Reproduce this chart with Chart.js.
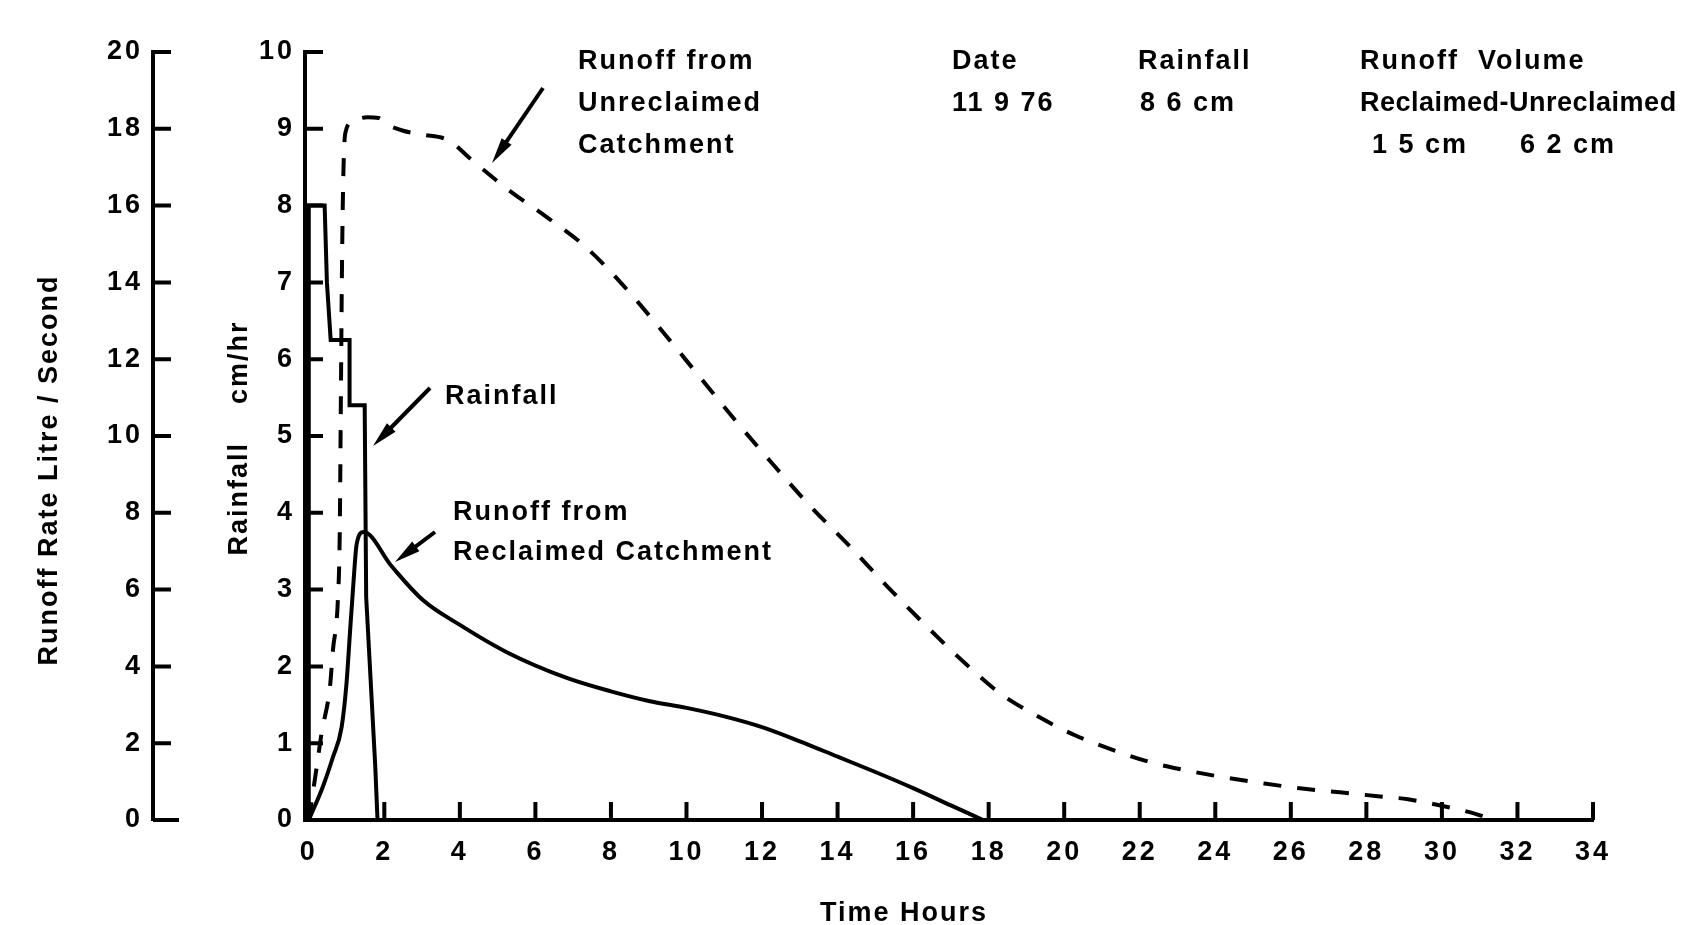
<!DOCTYPE html>
<html>
<head>
<meta charset="utf-8">
<script src="https://cdn.jsdelivr.net/npm/chart.js@4.4.1/dist/chart.umd.min.js"></script>
<style>
    html, body { margin: 0; background: #fff; }
</style>
</head>
<body>
<canvas id="hydroChart" width="1702" height="925"></canvas>
<script>
// 1. DATA
const hourTicks   = [0, 2, 4, 6, 8, 10, 12, 14, 16, 18, 20, 22, 24, 26, 28, 30, 32, 34];
const runoffTicks = [0, 2, 4, 6, 8, 10, 12, 14, 16, 18, 20];
const rainTicks   = [0, 1, 2, 3, 4, 5, 6, 7, 8, 9, 10];

// rainfall hyetograph, cm/hr
const rainHours = [0, 0, 0.42, 0.48, 0.58, 1.08, 1.08, 1.48, 1.52, 1.76, 1.82];
const rainCmHr  = [0, 8, 8, 7.0, 6.25, 6.25, 5.4, 5.4, 2.9, 0.7, 0];

// runoff from reclaimed catchment, litre / second
const reclaimedHours = [0, 0.37, 0.64, 0.87, 1.0, 1.09, 1.17, 1.27, 1.45, 2.2, 3.02, 4.0, 5.24, 6.83, 8.0, 9.0, 10.0, 11.0, 12.0, 13.0, 14.0, 15.0, 16.0, 17.0, 17.85];
const reclaimedLps   = [0, 0.86, 1.64, 2.42, 3.57, 4.87, 6.0, 7.2, 7.5, 6.6, 5.73, 5.08, 4.37, 3.7, 3.35, 3.1, 2.92, 2.7, 2.42, 2.05, 1.65, 1.25, 0.83, 0.38, 0];

// runoff from unreclaimed catchment, litre / second
const unreclaimedHours = [0, 0.21, 0.34, 0.56, 0.64, 0.77, 0.82, 0.85, 0.88, 0.92, 0.97, 1.17, 1.55, 1.85, 2.1, 2.5, 3.0, 3.7, 4.3, 5.3, 6.3, 7.3, 8.3, 9.3, 10.3, 11.3, 12.3, 13.3, 14.3, 15.3, 16.3, 17.3, 18.3, 19.3, 20.3, 21.3, 22.3, 23.3, 24.3, 25.3, 26.3, 27.3, 28.3, 29.1, 29.9, 30.7, 31.4];
const unreclaimedLps   = [0, 1.38, 2.27, 3.46, 4.43, 5.73, 7.5, 11, 14.5, 17.0, 17.9, 18.2, 18.3, 18.28, 18.1, 17.95, 17.85, 17.7, 17.2, 16.4, 15.7, 14.95, 13.95, 12.8, 11.6, 10.4, 9.25, 8.15, 7.15, 6.1, 5.1, 4.15, 3.3, 2.7, 2.2, 1.82, 1.5, 1.28, 1.1, 0.95, 0.82, 0.72, 0.62, 0.54, 0.39, 0.21, 0];

const toPoints = (xs, ys) => xs.map((x, i) => ({ x: x, y: ys[i] }));

const INK = '#000';
const FONT = '"Liberation Sans", Arial, sans-serif';

// 2. TICK MARKS (drawn inward like the original)
const tickMarks = {
    id: 'tickMarks',
    beforeDraw(chart) {
        chart.ctx.letterSpacing = '3px';
    },
    afterDraw(chart) {
        const { ctx, scales } = chart;
        const { x, yRun, yRain } = scales;
        ctx.save();
        ctx.strokeStyle = INK;
        ctx.lineWidth = 4;
        ctx.beginPath();
        yRun.ticks.forEach(t => {
            const py = yRun.getPixelForValue(t.value);
            ctx.moveTo(yRun.right, py); ctx.lineTo(yRun.right + (t.value === 0 ? 26 : 18), py);
        });
        yRain.ticks.forEach(t => {
            const py = yRain.getPixelForValue(t.value);
            ctx.moveTo(yRain.right, py); ctx.lineTo(yRain.right + 18, py);
        });
        x.ticks.forEach(t => {
            const px = x.getPixelForValue(t.value);
            ctx.moveTo(px, x.top); ctx.lineTo(px, x.top - 18);
        });
        ctx.stroke();
        ctx.restore();
    }
};

// 3. NOTES, ARROWS AND AXIS TITLES
const arrow = (ctx, x1, y1, x2, y2) => {
    const a = Math.atan2(y2 - y1, x2 - x1);
    ctx.beginPath();
    ctx.moveTo(x1, y1);
    ctx.lineTo(x2 - 14 * Math.cos(a), y2 - 14 * Math.sin(a));
    ctx.stroke();
    ctx.beginPath();
    ctx.moveTo(x2, y2);
    ctx.lineTo(x2 - 26 * Math.cos(a) + 6 * Math.sin(a), y2 - 26 * Math.sin(a) - 6 * Math.cos(a));
    ctx.lineTo(x2 - 26 * Math.cos(a) - 6 * Math.sin(a), y2 - 26 * Math.sin(a) + 6 * Math.cos(a));
    ctx.closePath();
    ctx.fill();
};

const notes = {
    id: 'notes',
    afterDraw(chart) {
        const ctx = chart.ctx;
        ctx.save();
        ctx.fillStyle = INK;
        ctx.strokeStyle = INK;
        ctx.lineWidth = 4;
        ctx.letterSpacing = '2px';
        ctx.font = 'bold 27px ' + FONT;
        ctx.textAlign = 'left';
        ctx.textBaseline = 'middle';

        const lines = [
            ['Runoff from', 578, 62], ['Unreclaimed', 578, 104], ['Catchment', 578, 146],
            ['Date', 952, 62], ['11 9 76', 952, 104],
            ['Rainfall', 1138, 62], ['8 6 cm', 1140, 104],
            ['Runoff  Volume', 1360, 62],
            ['1 5 cm', 1372, 146], ['6 2 cm', 1520, 146],
            ['Rainfall', 445, 397],
            ['Runoff from', 453, 513], ['Reclaimed Catchment', 453, 553]
        ];
        lines.forEach(([txt, px, py]) => ctx.fillText(txt, px, py));

        // this line runs right up to the edge of the sheet
        ctx.letterSpacing = '0.5px';
        ctx.fillText('Reclaimed-Unreclaimed', 1360, 104);
        ctx.letterSpacing = '2px';

        arrow(ctx, 543, 88, 492, 163);
        arrow(ctx, 430, 388, 373, 446);
        arrow(ctx, 435, 532, 395, 562);

        ctx.textAlign = 'center';
        ctx.fillText('Time Hours', 904, 914);

        ctx.translate(50, 470);
        ctx.rotate(-Math.PI / 2);
        ctx.fillText('Runoff Rate Litre / Second', 0, 0);
        ctx.rotate(Math.PI / 2);
        ctx.translate(190, -32);
        ctx.rotate(-Math.PI / 2);
        ctx.fillText('Rainfall    cm/hr', 0, 0);
        ctx.restore();
    }
};

// 4. CHART
const tickFont = { family: FONT, size: 27, weight: 'bold' };
const setTicks = values => scale => { scale.ticks = values.map(v => ({ value: v })); };

new Chart(document.getElementById('hydroChart'), {
    type: 'line',
    data: {
        datasets: [
            {
                label: 'Rainfall',
                data: toPoints(rainHours, rainCmHr),
                yAxisID: 'yRain',
                borderColor: INK,
                borderWidth: 4,
                tension: 0,
                pointRadius: 0
            },
            {
                label: 'Runoff from Reclaimed Catchment',
                data: toPoints(reclaimedHours, reclaimedLps),
                yAxisID: 'yRun',
                borderColor: INK,
                borderWidth: 4,
                cubicInterpolationMode: 'monotone',
                pointRadius: 0
            },
            {
                label: 'Runoff from Unreclaimed Catchment',
                data: toPoints(unreclaimedHours, unreclaimedLps),
                yAxisID: 'yRun',
                borderColor: INK,
                borderWidth: 4,
                borderDash: [18, 16],
                cubicInterpolationMode: 'monotone',
                pointRadius: 0
            }
        ]
    },
    options: {
        responsive: false,
        animation: false,
        layout: { padding: { top: 52, right: 109, bottom: 0, left: 0 } },
        plugins: { legend: { display: false }, tooltip: { enabled: false } },
        scales: {
            x: {
                type: 'linear',
                min: -0.1,
                max: 34,
                afterBuildTicks: setTicks(hourTicks),
                afterFit: s => { s.height = 105; },
                grid: { drawOnChartArea: false, drawTicks: false },
                border: { display: true, color: INK, width: 4 },
                ticks: { color: INK, font: tickFont, padding: 16, maxRotation: 0, autoSkip: false }
            },
            yRun: {
                type: 'linear',
                position: 'left',
                weight: 1,
                min: 0,
                max: 20,
                afterBuildTicks: setTicks(runoffTicks),
                afterFit: s => { s.width = 153; },
                grid: { drawOnChartArea: false, drawTicks: false },
                border: { display: true, color: INK, width: 4 },
                ticks: { color: INK, font: tickFont, padding: 10, autoSkip: false }
            },
            yRain: {
                type: 'linear',
                position: 'left',
                weight: 0,
                min: 0,
                max: 10,
                afterBuildTicks: setTicks(rainTicks),
                afterFit: s => { s.width = 152; },
                grid: { drawOnChartArea: false, drawTicks: false },
                border: { display: true, color: INK, width: 4 },
                ticks: { color: INK, font: tickFont, padding: 10, autoSkip: false }
            }
        }
    },
    plugins: [tickMarks, notes]
});
</script>
</body>
</html>
